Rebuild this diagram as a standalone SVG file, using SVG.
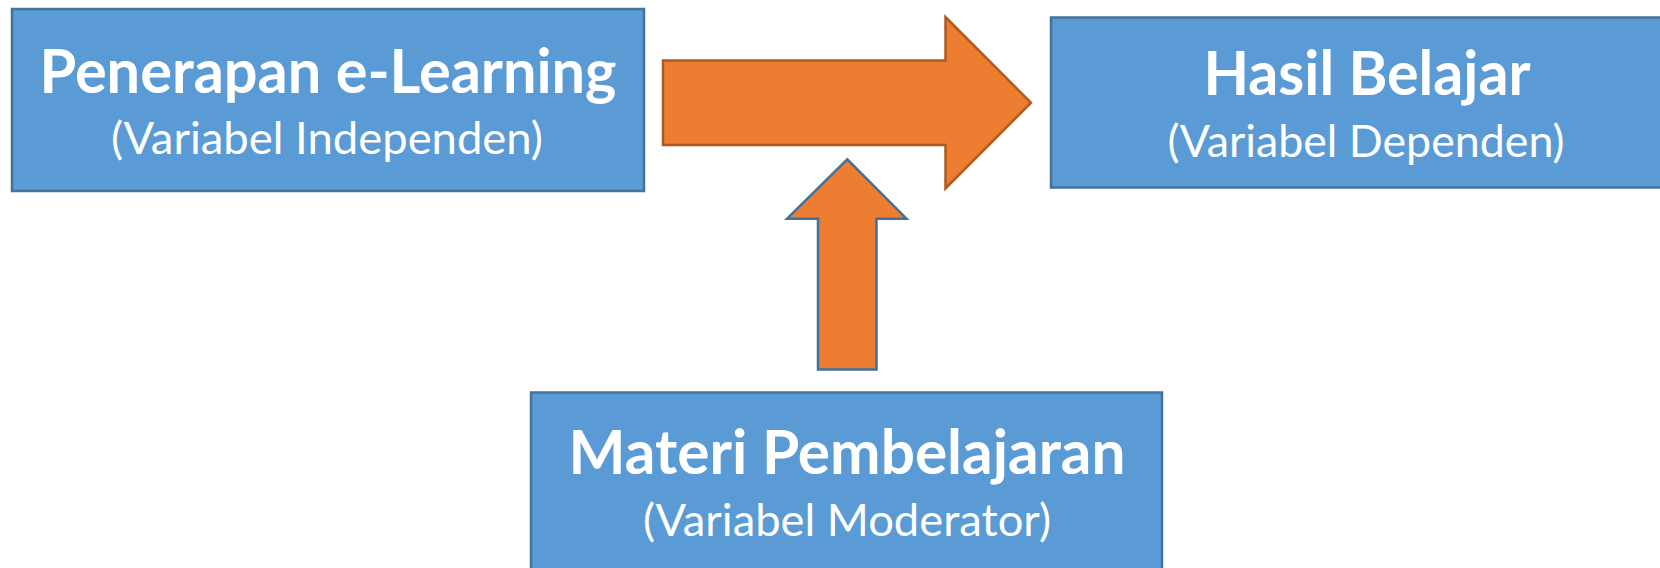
<svg xmlns="http://www.w3.org/2000/svg" width="1660" height="568" viewBox="0 0 1660 568">
  <style>
    .box { fill: #5B9BD5; stroke: #41719C; stroke-width: 2.5; }
    .title { font-family: Lato, "Open Sans", "Liberation Sans", sans-serif; font-weight: bold; font-size: 62px; fill: #FFFFFF; text-anchor: middle; }
    .sub { font-family: Lato, "Open Sans", "Liberation Sans", sans-serif; font-size: 44px; fill: #FFFFFF; text-anchor: middle; }
    .arrow-main { fill: #ED7D31; stroke: #AE5A21; stroke-width: 2.5; stroke-linejoin: miter; }
    .arrow-mod { fill: #ED7D31; stroke: #41719C; stroke-width: 2.5; stroke-linejoin: miter; }
  </style>
  <rect width="1660" height="568" fill="#FFFFFF"/>

  <g id="connectors">
    <!-- block arrow: independent variable to dependent variable -->
    <polygon class="arrow-main" points="663,60.5 945.5,60.5 945.5,17 1031,102.7 945.5,188.5 945.5,145 663,145"/>
    <!-- block arrow: moderator pointing up at the main arrow -->
    <polygon class="arrow-mod" points="818,369.5 818,218.7 787,218.7 847.3,159.3 906.5,218.7 876.5,218.7 876.5,369.5"/>
  </g>

  <g id="node-independen">
    <rect class="box" x="12" y="9" width="632" height="182"/>
    <text class="title" x="328" y="93" textLength="577" lengthAdjust="spacingAndGlyphs">Penerapan e-Learning</text>
    <text class="sub" x="327" y="154" textLength="432" lengthAdjust="spacingAndGlyphs">(Variabel Independen)</text>
  </g>

  <g id="node-dependen">
    <rect class="box" x="1051" y="17.5" width="620" height="170"/>
    <text class="title" x="1367" y="95" textLength="327" lengthAdjust="spacingAndGlyphs">Hasil Belajar</text>
    <text class="sub" x="1366" y="157" textLength="397" lengthAdjust="spacingAndGlyphs">(Variabel Dependen)</text>
  </g>

  <g id="node-moderator">
    <rect class="box" x="531" y="392.5" width="631" height="190"/>
    <text class="title" x="847" y="474" textLength="557" lengthAdjust="spacingAndGlyphs">Materi Pembelajaran</text>
    <text class="sub" x="847" y="536" textLength="408" lengthAdjust="spacingAndGlyphs">(Variabel Moderator)</text>
  </g>
</svg>
